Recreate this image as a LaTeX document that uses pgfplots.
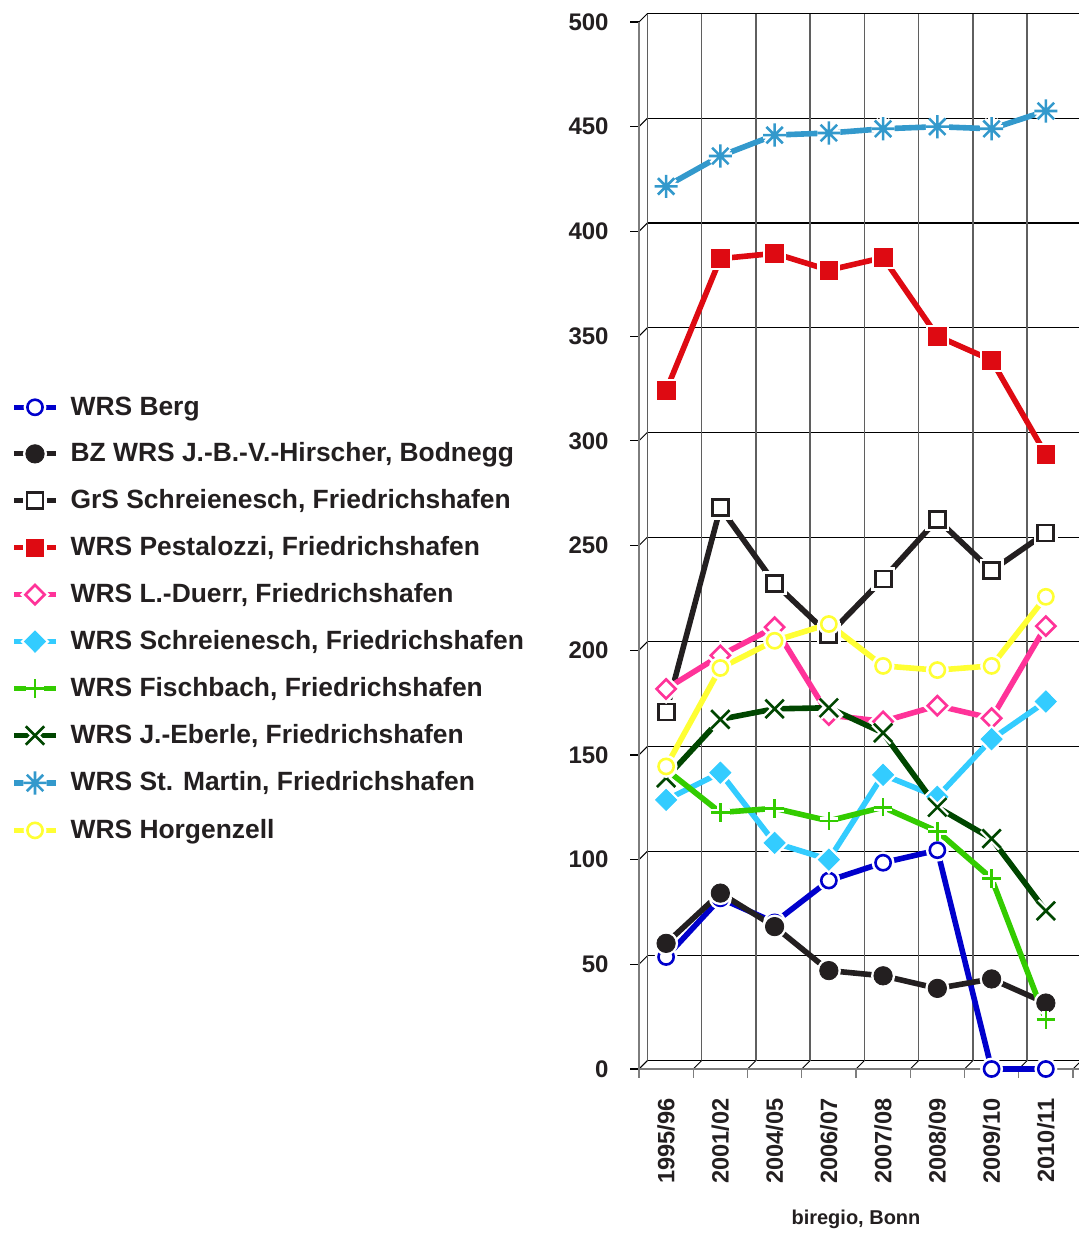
\documentclass[border=0pt]{standalone}
\usepackage{fontspec}
\setmainfont{Liberation Sans}
\usepackage{pgfplots}
\pgfplotsset{compat=1.18}
\usepackage{pgfplotstable}

\definecolor{cBerg}{RGB}{0,0,204}
\definecolor{cBZ}{RGB}{35,31,32}
\definecolor{cGrS}{RGB}{35,31,32}
\definecolor{cPest}{RGB}{222,10,18}
\definecolor{cDuerr}{RGB}{255,51,153}
\definecolor{cSchr}{RGB}{51,204,255}
\definecolor{cFisch}{RGB}{51,204,0}
\definecolor{cEber}{RGB}{0,70,0}
\definecolor{cMart}{RGB}{51,153,204}
\definecolor{cHorg}{RGB}{255,255,51}
\definecolor{txt}{RGB}{35,31,32}
\definecolor{frontc}{RGB}{125,125,125}
\definecolor{vgridc}{RGB}{95,95,95}

% eight-armed star marker
\pgfdeclareplotmark{star8}{%
  \pgfpathmoveto{\pgfqpoint{-\pgfplotmarksize}{0pt}}\pgfpathlineto{\pgfqpoint{\pgfplotmarksize}{0pt}}%
  \pgfpathmoveto{\pgfqpoint{0pt}{-\pgfplotmarksize}}\pgfpathlineto{\pgfqpoint{0pt}{\pgfplotmarksize}}%
  \pgfpathmoveto{\pgfqpoint{-.7071\pgfplotmarksize}{-.7071\pgfplotmarksize}}\pgfpathlineto{\pgfqpoint{.7071\pgfplotmarksize}{.7071\pgfplotmarksize}}%
  \pgfpathmoveto{\pgfqpoint{-.7071\pgfplotmarksize}{.7071\pgfplotmarksize}}\pgfpathlineto{\pgfqpoint{.7071\pgfplotmarksize}{-.7071\pgfplotmarksize}}%
  \pgfusepathqstroke}

\pgfplotstableread{
x Berg BZ GrS Pest Duerr Schr Fisch Eber Mart Horg
0 53.5 60.0 170.5 324.0 181.5 128.5 143.0 139.0 421.5 144.5
1 81.5 84.0 268.0 387.0 197.5 141.5 122.5 167.0 436.0 191.5
2 70.0 68.0 232.0 389.5 211.0 108.0 124.5 172.0 446.0 204.5
3 90.0 47.0 207.5 381.5 169.0 100.0 118.5 172.5 447.0 212.5
4 98.5 44.5 234.0 387.5 166.0 140.5 125.0 160.5 449.0 192.5
5 104.5 38.5 262.5 350.0 173.5 130.0 113.5 125.0 450.0 190.5
6 0.0 43.0 238.0 338.5 167.5 157.5 91.0 110.0 449.0 192.5
7 0.0 31.5 256.0 293.5 211.5 175.5 23.5 75.5 457.5 225.5
}\data

% #1 column, #2 colour, #3 mark, #4 mark size, #5 fill, #6 mark line width,
% #7 halo line width, #8 extra mark options, #9 legend text
\newcommand{\series}[9]{%
  \addplot[forget plot, draw=#2, line width=2.8pt, mark=none] table[x=x,y=#1]{\data};
  \addplot[forget plot, only marks, mark=#3, mark size=#4,
    mark options={draw=white, fill=white, line width=#7, #8}] table[x=x,y=#1]{\data};
  \addplot[forget plot, only marks, mark=#3, mark size=#4,
    mark options={draw=#2, fill=#5, line width=#6, #8}] table[x=x,y=#1]{\data};
  \addlegendimage{legend image code/.code={%
    \draw[draw=#2, line width=2.6pt] (0pt,0pt) -- (21pt,0pt);
    \draw[draw=white, fill=white, line width=#7] plot[only marks, mark=#3, mark size=#4, mark options={#8}] coordinates {(10.5pt,0pt)};
    \draw[draw=#2, fill=#5, line width=#6] plot[only marks, mark=#3, mark size=#4, mark options={#8}] coordinates {(10.5pt,0pt)};
  }}
  \addlegendentry{#9}
}

\begin{document}
\begin{tikzpicture}
\begin{axis}[
  at={(0,0)}, anchor=south west,
  scale only axis, width=217pt, height=523.5pt,
  xmin=-0.5, xmax=7.5, ymin=0, ymax=500,
  clip=false,
  /pgf/number format/assume math mode=true,
  axis line style={draw=none},
  major tick length=0pt,
  tick style={draw=none},
  xtick={0,...,7},
  xticklabels={1995/96,2001/02,2004/05,2006/07,2007/08,2008/09,2009/10,2010/11},
  x tick label style={rotate=90, anchor=east, inner sep=0pt,
    font=\fontsize{11.8}{12}\selectfont\bfseries, text=txt},
  xticklabel shift=14.5pt,
  ytick={0,50,...,500},
  y tick label style={anchor=east, inner sep=0pt,
    font=\fontsize{12}{12}\selectfont\bfseries, text=txt},
  yticklabel shift=15pt,
  xlabel={biregio, Bonn},
  xlabel style={at={(axis description cs:0.5,0)}, anchor=center, yshift=-75pt,
    font=\fontsize{10}{12}\selectfont\bfseries, text=txt},
  legend cell align=left,
  legend style={draw=none, fill=none, inner sep=0pt,
    at={(axis description cs:-1.447,0.4298)}, anchor=west,
    font=\fontsize{13.2}{15}\selectfont\bfseries, text=txt,
    nodes={inner sep=0pt},
    row sep=12.4pt,
    /tikz/every odd column/.append style={column sep=6pt}},
]
% 3D style wall grid
\pgfplotsinvokeforeach{0,50,...,500}{
  \draw[black, line width=0.55pt] ([shift={(4.2pt,4.2pt)}]axis cs:-0.5,#1) -- ([shift={(8pt,4.2pt)}]axis cs:7.5,#1);
  \draw[black, line width=0.5pt] (axis cs:-0.5,#1) -- ++(4.2pt,4.2pt);
  \draw[black, line width=0.6pt] (axis cs:-0.5,#1) -- ++(-4.5pt,0pt);
}
\pgfplotsinvokeforeach{-0.5,0.5,1.5,2.5,3.5,4.5,5.5,6.5,7.5}{
  \draw[vgridc, line width=0.65pt] ([shift={(4.2pt,4.2pt)}]axis cs:#1,0) -- ([shift={(4.2pt,4.2pt)}]axis cs:#1,500);
  \draw[black, line width=0.5pt] (axis cs:#1,0) -- ++(4.2pt,4.2pt);
  \draw[frontc, line width=0.6pt] (axis cs:#1,0) -- ++(0pt,-4.5pt);
}
\draw[frontc, line width=0.9pt] (axis cs:-0.5,0) -- (axis cs:-0.5,500);
\draw[frontc, line width=0.9pt] (axis cs:-0.5,0) -- ([shift={(8pt,0pt)}]axis cs:7.5,0);

\series{Berg}{cBerg}{*}{3.8pt}{white}{1.3pt}{3.8pt}{}{WRS Berg}
\series{BZ}{cBZ}{*}{4.6pt}{cBZ}{0.4pt}{2.8pt}{}{BZ WRS J.-B.-V.-Hirscher, Bodnegg}
\series{GrS}{cGrS}{square*}{4pt}{white}{1.4pt}{3.9pt}{}{GrS Schreienesch, Friedrichshafen}
\series{Pest}{cPest}{square*}{4.4pt}{cPest}{0.4pt}{2.8pt}{}{WRS Pestalozzi, Friedrichshafen}
\series{Duerr}{cDuerr}{diamond*}{4.8pt}{white}{1.3pt}{3.8pt}{xscale=1.33}{WRS L.-Duerr, Friedrichshafen}
\series{Schr}{cSchr}{diamond*}{5.3pt}{cSchr}{0.4pt}{2.8pt}{xscale=1.33}{WRS Schreienesch, Friedrichshafen}
\series{Fisch}{cFisch}{+}{4.6pt}{cFisch}{1.3pt}{3.6pt}{}{WRS Fischbach, Friedrichshafen}
\series{Eber}{cEber}{x}{6.5pt}{cEber}{1.3pt}{3.6pt}{}{WRS J.-Eberle, Friedrichshafen}
\series{Mart}{cMart}{star8}{5.8pt}{cMart}{1.3pt}{3.6pt}{}{WRS St. Martin, Friedrichshafen}
\series{Horg}{cHorg}{*}{3.8pt}{white}{1.3pt}{3.8pt}{}{WRS Horgenzell}
\end{axis}
\pgfresetboundingbox
\useasboundingbox (-319.5pt,-82pt) rectangle (220pt,534.5pt);
\end{tikzpicture}
\end{document}
